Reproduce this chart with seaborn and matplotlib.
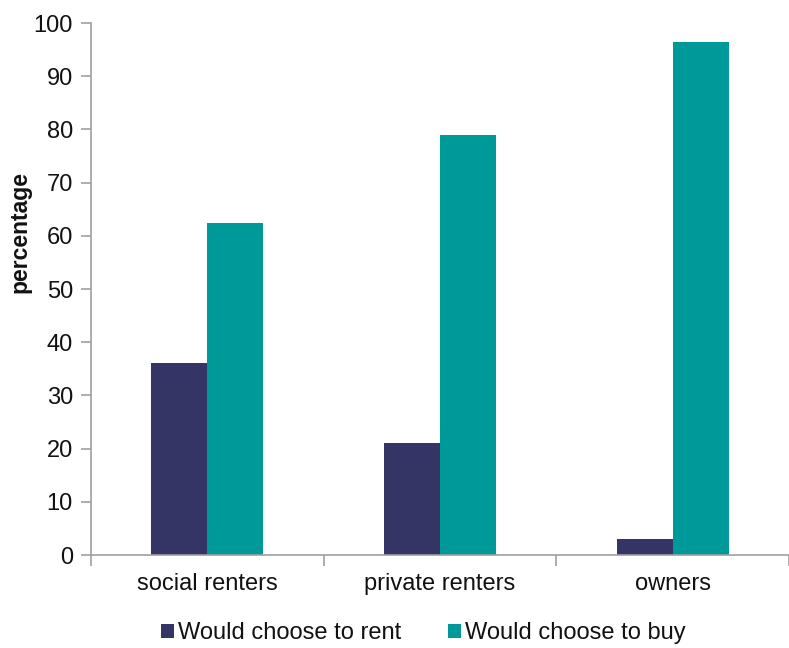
import matplotlib
matplotlib.use("Agg")
import matplotlib.pyplot as plt
import seaborn as sns
import pandas as pd

categories = ["social renters", "private renters", "owners"]
rent_values = [36, 21, 3]
buy_values = [62.4, 79, 96.4]
series_names = ["Would choose to rent", "Would choose to buy"]
colors = ["#343564", "#009999"]
y_ticks = list(range(0, 101, 10))

df = pd.DataFrame({
    "category": categories * 2,
    "value": rent_values + buy_values,
    "series": [series_names[0]] * 3 + [series_names[1]] * 3,
})

sns.set_theme(style="white")
plt.rcParams["font.family"] = ["Liberation Sans", "DejaVu Sans"]

fs = 17
fig = plt.figure(figsize=(7.89, 6.48), dpi=100)
ax = fig.add_axes([0.1153, 0.1435, 0.8847, 0.821])

sns.barplot(data=df, x="category", y="value", hue="series", order=categories,
            hue_order=series_names, palette=colors, width=0.48, gap=0,
            saturation=1, ax=ax, legend=True, errorbar=None,
            edgecolor="none", linewidth=0)

ax.set_ylim(0, 100)
ax.set_xlim(-0.5, 2.47)
ax.set_yticks(y_ticks)
ax.set_yticklabels([str(t) for t in y_ticks], fontsize=fs, color="#111111")
ax.tick_params(axis="y", length=7, width=1.2, color="#a0a0a0", pad=6, left=True)
ax.tick_params(axis="x", which="major", length=0, labelsize=fs, pad=13,
               labelcolor="#111111")
ax.set_xticks([-0.5, 0.5, 1.5, 2.5], minor=True)
ax.tick_params(axis="x", which="minor", length=8, width=1.2, color="#a0a0a0", bottom=True)

for side in ["top", "right"]:
    ax.spines[side].set_visible(False)
for side in ["left", "bottom"]:
    ax.spines[side].set_color("#a0a0a0")
    ax.spines[side].set_linewidth(1.2)

ax.set_xlabel("")
ax.set_ylabel("percentage", fontsize=16.5, fontweight="bold", color="#111111",
              va="center", ha="center")
ax.yaxis.set_label_coords(-0.102, 0.607)

handles, labels = ax.get_legend_handles_labels()
leg = ax.legend(handles, labels, loc="center", bbox_to_anchor=(0.476, -0.147),
                ncol=2, frameon=False, fontsize=fs, handlelength=0.55,
                handleheight=0.55, handletextpad=0.2, columnspacing=1.95)
for t in leg.get_texts():
    t.set_color("#111111")

fig.savefig("out.png", dpi=100)
